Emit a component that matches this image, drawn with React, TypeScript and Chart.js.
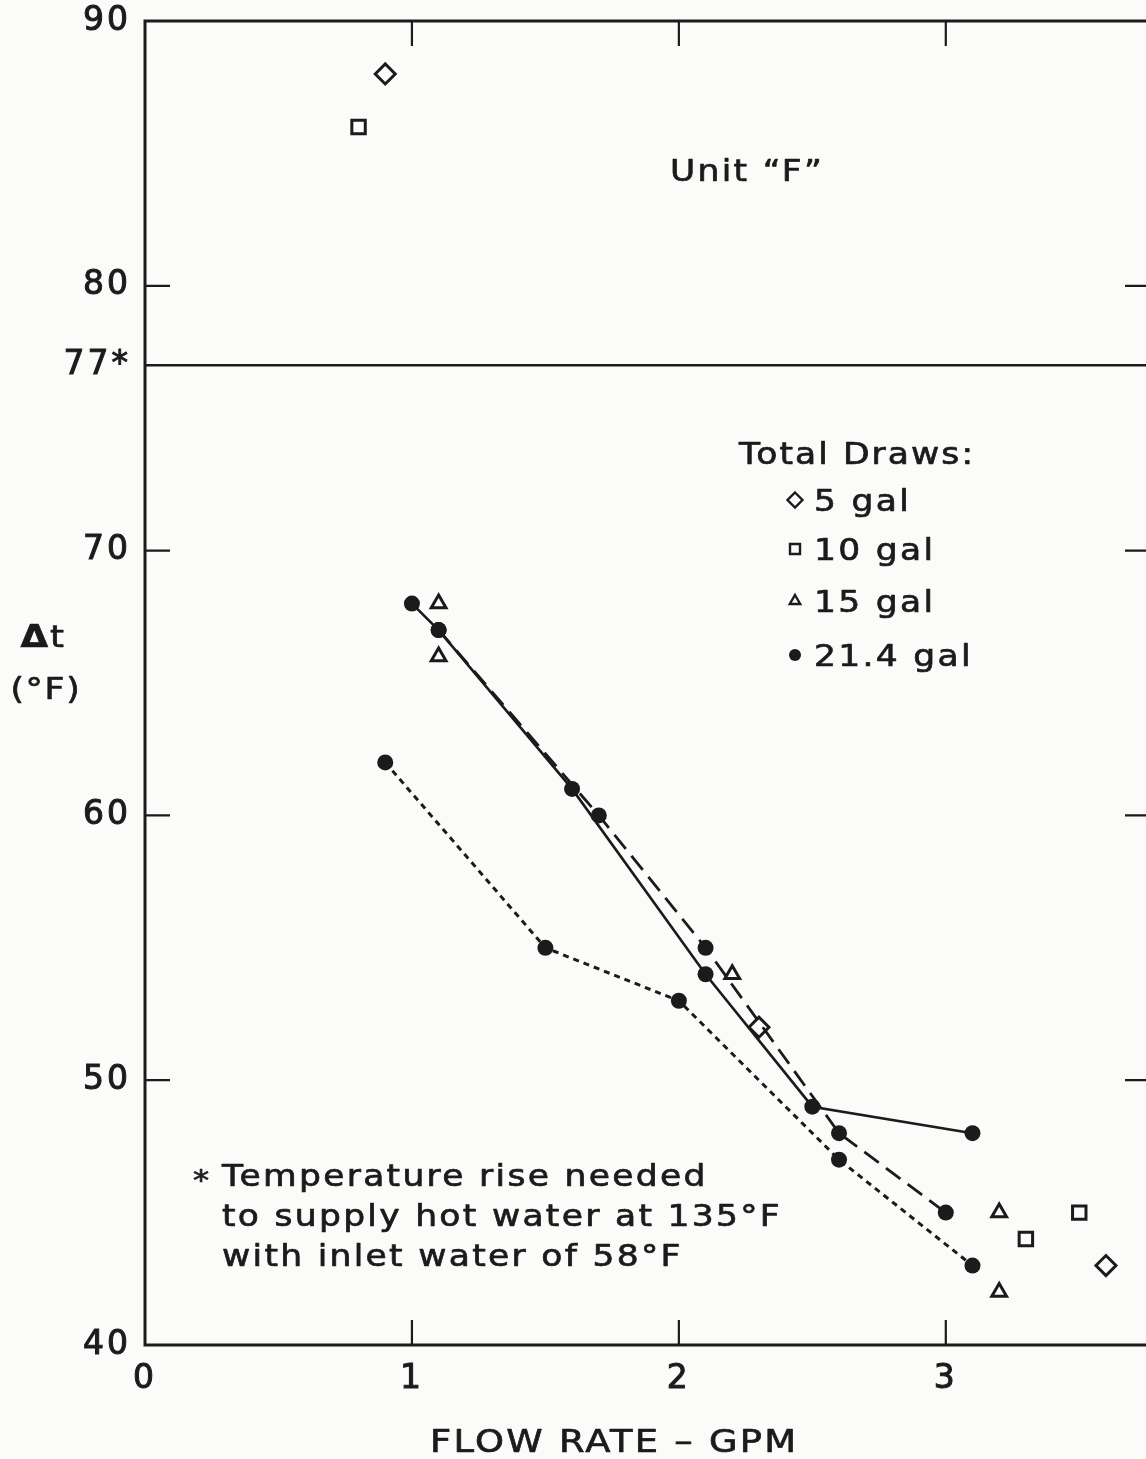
import React, { useEffect, useRef } from "react";
import { Chart, registerables } from "chart.js";

Chart.register(...registerables);

// ---- data ----
const xTickValues = [0, 1, 2, 3];
const yTickValues = [40, 50, 60, 70, 77, 80, 90];
const innerTickX = [1, 2, 3];
const innerTickY = [50, 60, 70, 80];
const requiredRise = 77;

const gal5X = [0.9, 2.3, 3.6];
const gal5Y = [88, 52, 43];
const gal10X = [0.8, 3.3, 3.5];
const gal10Y = [86, 44, 45];
const gal15X = [1.1, 1.1, 2.2, 3.2, 3.2];
const gal15Y = [68, 66, 54, 45, 42];
// 21.4 gal draws, three connected runs
const runSolidX = [1.0, 1.1, 1.6, 2.1, 2.5, 3.1];
const runSolidY = [68, 67, 61, 54, 49, 48];
const runDashedX = [1.1, 1.7, 2.1, 2.6, 3.0];
const runDashedY = [67, 60, 55, 48, 45];
const runDottedX = [0.9, 1.5, 2.0, 2.6, 3.1];
const runDottedY = [62, 55, 53, 47, 43];

const legendTitle = "Total Draws:";
const legendLabels = ["5 gal", "10 gal", "15 gal", "21.4 gal"];
const unitLabel = "Unit \u201CF\u201D";
const footnoteLines = [
  "Temperature rise needed",
  "to supply hot water at 135\u00B0F",
  "with inlet water of 58\u00B0F",
];
const xTitle = "FLOW RATE \u2013 GPM";
const yTitleDelta = "\u0394";
const yTitleT = "t";
const yTitleUnit = "(\u00B0F)";

const INK = "#1b1b1b";
const BG = "#fbfbf9";
const FONT = '"DejaVu Sans", "Liberation Sans", sans-serif';
const SX = 1.15;

function drawText(
  ctx: CanvasRenderingContext2D,
  s: string,
  x: number,
  y: number,
  size: number,
  align: "left" | "center" | "right" = "left",
  spacing = 2,
  weight = "normal"
) {
  ctx.save();
  ctx.font = `${weight} ${size}px ${FONT}`;
  (ctx as any).letterSpacing = `${spacing}px`;
  ctx.fillStyle = INK;
  ctx.strokeStyle = INK;
  ctx.lineWidth = 0.7;
  ctx.lineJoin = "round";
  ctx.textBaseline = "alphabetic";
  ctx.textAlign = "left";
  const w = (ctx.measureText(s).width - spacing) * SX;
  let sx = x;
  if (align === "center") sx = x - w / 2;
  else if (align === "right") sx = x - w;
  ctx.translate(sx, y + (size * 0.729) / 2);
  ctx.scale(SX, 1);
  ctx.fillText(s, 0, 0);
  ctx.strokeText(s, 0, 0);
  ctx.restore();
}

function marker(ctx: CanvasRenderingContext2D, kind: string, x: number, y: number) {
  ctx.save();
  ctx.strokeStyle = INK;
  ctx.fillStyle = INK;
  ctx.lineWidth = 2.4;
  ctx.beginPath();
  if (kind === "diamond") {
    const r = 7.5;
    ctx.moveTo(x, y - r);
    ctx.lineTo(x + r, y);
    ctx.lineTo(x, y + r);
    ctx.lineTo(x - r, y);
    ctx.closePath();
    ctx.stroke();
  } else if (kind === "square") {
    const h = 5;
    ctx.rect(x - h, y - h, 2 * h, 2 * h);
    ctx.stroke();
  } else if (kind === "triangle") {
    const r = 6;
    ctx.moveTo(x, y - r);
    ctx.lineTo(x + r * 0.87, y + r * 0.5);
    ctx.lineTo(x - r * 0.87, y + r * 0.5);
    ctx.closePath();
    ctx.stroke();
  } else {
    ctx.arc(x, y, 6, 0, Math.PI * 2);
    ctx.fill();
  }
  ctx.restore();
}

const framePlugin = {
  id: "frame",
  beforeDraw(chart: any) {
    const ctx = chart.ctx as CanvasRenderingContext2D;
    ctx.save();
    ctx.fillStyle = BG;
    ctx.fillRect(0, 0, chart.width, chart.height);
    ctx.restore();
    (ctx as any).letterSpacing = "3px";
  },
  afterDraw(chart: any) {
    const ctx = chart.ctx as CanvasRenderingContext2D;
    (ctx as any).letterSpacing = "0px";
    const { left, right, top, bottom } = chart.chartArea;
    const xs = chart.scales.x;
    const ys = chart.scales.y;
    ctx.save();
    ctx.strokeStyle = INK;
    ctx.lineWidth = 3;
    ctx.strokeRect(left, top, right - left, bottom - top);
    ctx.lineWidth = 2.2;
    const tl = 25;
    ctx.beginPath();
    innerTickX.forEach((v) => {
      const px = xs.getPixelForValue(v);
      ctx.moveTo(px, top);
      ctx.lineTo(px, top + tl);
      ctx.moveTo(px, bottom);
      ctx.lineTo(px, bottom - tl);
    });
    innerTickY.forEach((v) => {
      const py = ys.getPixelForValue(v);
      ctx.moveTo(left, py);
      ctx.lineTo(left + tl, py);
      ctx.moveTo(right, py);
      ctx.lineTo(right - tl, py);
    });
    ctx.stroke();
    ctx.lineWidth = 2.5;
    ctx.beginPath();
    const ry = ys.getPixelForValue(requiredRise);
    ctx.moveTo(left, ry);
    ctx.lineTo(right, ry);
    ctx.stroke();
    ctx.restore();

    drawText(ctx, unitLabel, 670, 170, 30, "left", 2);
    drawText(ctx, legendTitle, 739, 453, 30, "left", 1.8);
    const kinds = ["diamond", "square", "triangle", "circle"];
    const rowsY = [500, 549, 601, 655];
    legendLabels.forEach((lab, i) => {
      marker(ctx, kinds[i], 795, rowsY[i]);
      drawText(ctx, lab, 814, rowsY[i], 30, "left", 2);
    });
    drawText(ctx, "*", 193, 1180, 28, "left", 0);
    const fy = [1175, 1215, 1255];
    footnoteLines.forEach((l, i) => drawText(ctx, l, 222, fy[i], 30, "left", 2));
    drawText(ctx, xTitle, 613, 1440, 32, "center", 2);
    drawText(ctx, yTitleDelta, 48, 636, 31, "right", 0, "bold");
    drawText(ctx, yTitleT, 50, 636, 31, "left", 0);
    drawText(ctx, yTitleUnit, 45, 688, 30, "center", 1.5);
  },
};

function pts(xs: number[], ys: number[]) {
  return xs.map((x, i) => ({ x, y: ys[i] }));
}

export default function App() {
  const ref = useRef<HTMLCanvasElement>(null);
  useEffect(() => {
    const canvas = ref.current!;
    const hollow = (label: string, xs: number[], ys: number[], style: string, radius: number) => ({
      label,
      data: pts(xs, ys),
      showLine: false,
      pointStyle: style,
      pointRadius: radius,
      pointBackgroundColor: "rgba(0,0,0,0)",
      pointBorderColor: INK,
      pointBorderWidth: 3,
      borderColor: INK,
      backgroundColor: "rgba(0,0,0,0)",
    });
    const run = (label: string, xs: number[], ys: number[], dash: number[], width: number) => ({
      label,
      data: pts(xs, ys),
      showLine: true,
      borderColor: INK,
      borderWidth: width,
      borderDash: dash,
      pointStyle: "circle",
      pointRadius: 8,
      pointBackgroundColor: INK,
      pointBorderColor: INK,
      pointBorderWidth: 0,
      tension: 0,
      fill: false,
    });
    const chart = new Chart(canvas, {
      type: "scatter",
      data: {
        datasets: [
          run("21.4 gal A", runSolidX, runSolidY, [], 2.6),
          run("21.4 gal B", runDashedX, runDashedY, [18, 9], 2.8),
          run("21.4 gal C", runDottedX, runDottedY, [6, 5], 3),
          hollow("5 gal", gal5X, gal5Y, "rectRot", 10),
          hollow("10 gal", gal10X, gal10Y, "rect", 9.5),
          hollow("15 gal", gal15X, gal15Y, "triangle", 8.5),
        ] as any,
      },
      options: {
        responsive: false,
        animation: false,
        devicePixelRatio: 1,
        events: [],
        layout: { padding: { left: 0, top: 21, right: 20, bottom: 0 } },
        plugins: {
          legend: { display: false },
          tooltip: { enabled: false },
          title: { display: false },
        },
        scales: {
          x: {
            type: "linear",
            min: 0,
            max: 3.765,
            grid: { display: false, drawTicks: false },
            border: { display: false },
            afterBuildTicks: (s: any) => {
              s.ticks = xTickValues.map((v) => ({ value: v }));
            },
            afterFit: (s: any) => {
              s.height = 114;
              s.paddingLeft = 0;
              s.paddingRight = 0;
            },
            ticks: {
              padding: 15,
              color: INK,
              font: { family: FONT, size: 33 },
              textStrokeColor: INK,
              textStrokeWidth: 1,
              maxRotation: 0,
              autoSkip: false,
              callback: (v: any) => String(v),
            },
          },
          y: {
            type: "linear",
            min: 40,
            max: 90,
            grid: { display: false, drawTicks: false },
            border: { display: false },
            afterBuildTicks: (s: any) => {
              s.ticks = yTickValues.map((v) => ({ value: v }));
            },
            afterFit: (s: any) => {
              s.width = 145;
              s.paddingTop = 0;
              s.paddingBottom = 0;
            },
            ticks: {
              padding: 14,
              color: INK,
              font: { family: FONT, size: 33 },
              textStrokeColor: INK,
              textStrokeWidth: 1,
              autoSkip: false,
              callback: (v: any) => (v === requiredRise ? `${v}*` : String(v)),
            },
          },
        },
      } as any,
      plugins: [framePlugin],
    });
    return () => chart.destroy();
  }, []);
  return (
    <div
      style={{
        position: "fixed",
        left: 0,
        top: 0,
        width: 1146,
        height: 1459,
        overflow: "hidden",
        background: BG,
      }}
    >
      <canvas ref={ref} width={1170} height={1459} style={{ display: "block" }} />
    </div>
  );
}
